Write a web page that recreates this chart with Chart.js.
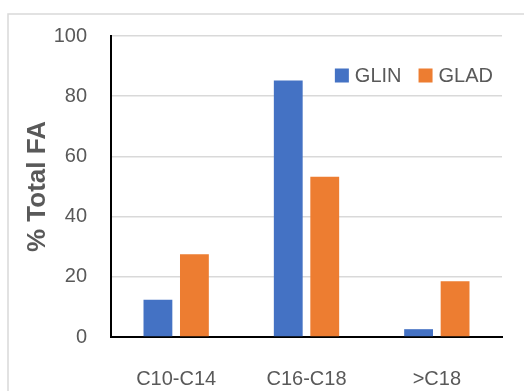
<!DOCTYPE html>
<html>
<head>
<meta charset="utf-8">
<script src="https://cdn.jsdelivr.net/npm/chart.js@4"></script>
<style>
  html, body { margin: 0; padding: 0; background: #fff; }
  #wrap { width: 524px; height: 391px; position: relative; }
</style>
</head>
<body>
<div id="wrap"><canvas id="faChart"></canvas></div>
<script>
  /* Fatty acid chain length chart
   * values
   */
  'use strict';

  var categories = ['C10-C14', 'C16-C18', '>C18'];
  var glinValues = [12.4, 85.2, 2.6];
  var gladValues = [27.5, 53.2, 18.5];
  var yTicks = [0, 20, 40, 60, 80, 100];

  var FONT = "'Liberation Sans', Arial, sans-serif";
  var TEXT = '#595959';

  // frame lines of the cropped figure (top and left edge)
  var framePlugin = {
    id: 'frame',
    beforeDraw: function (chart) {
      var c = chart.ctx;
      c.save();
      c.strokeStyle = '#d9d9d9';
      c.lineWidth = 1.5;
      c.beginPath();
      c.moveTo(8, chart.height);
      c.lineTo(8, 14);
      c.lineTo(chart.width, 14);
      c.stroke();
      c.restore();
    }
  };

  // legend drawn inside the plot area, top right
  var innerLegend = {
    id: 'innerLegend',
    afterDraw: function (chart) {
      var c = chart.ctx;
      var area = chart.chartArea;
      var sets = chart.data.datasets;
      var box = 14, gapText = 6, gapItem = 17;
      c.save();
      c.font = '20px ' + FONT;
      c.textBaseline = 'middle';
      var total = 0;
      sets.forEach(function (ds, i) {
        total += box + gapText + c.measureText(ds.label).width;
        if (i < sets.length - 1) total += gapItem;
      });
      var x = area.right - 9 - total;
      var yTop = area.top + 32.5;
      sets.forEach(function (ds) {
        c.fillStyle = ds.backgroundColor;
        c.fillRect(x, yTop, box, box);
        x += box + gapText;
        c.fillStyle = TEXT;
        c.fillText(ds.label, x, yTop + box / 2 + 1);
        x += c.measureText(ds.label).width + gapItem;
      });
      c.restore();
    }
  };

  var ctx = document.getElementById('faChart');

  new Chart(ctx, {
    type: 'bar',
    data: {
      labels: categories,
      datasets: [
        {
          label: 'GLIN',
          data: glinValues,
          backgroundColor: '#4472C4',
          categoryPercentage: 0.56,
          barPercentage: 0.79
        },
        {
          label: 'GLAD',
          data: gladValues,
          backgroundColor: '#ED7D31',
          categoryPercentage: 0.56,
          barPercentage: 0.79
        }
      ]
    },
    options: {
      responsive: true,
      maintainAspectRatio: false,
      animation: false,
      layout: {
        padding: { left: 0, right: 22, top: 29, bottom: 0 }
      },
      plugins: {
        legend: { display: false },
        tooltip: { enabled: false }
      },
      scales: {
        x: {
          grid: { display: false, drawTicks: false },
          border: { color: '#000', width: 2 },
          ticks: {
            color: TEXT,
            font: { family: FONT, size: 20 },
            padding: 30,
            maxRotation: 0
          },
          afterFit: function (scale) { scale.height = 54; }
        },
        y: {
          min: 0,
          max: 100,
          afterBuildTicks: function (scale) {
            scale.ticks = yTicks.map(function (v) { return { value: v }; });
          },
          grid: { color: '#d9d9d9', lineWidth: 1.5, drawTicks: false },
          border: { color: '#000', width: 2 },
          ticks: {
            color: TEXT,
            font: { family: FONT, size: 20 },
            padding: 24
          },
          title: {
            display: true,
            text: '% Total FA',
            color: TEXT,
            font: { family: FONT, size: 26, weight: 'bold' },
            padding: { top: 22, bottom: 0 }
          },
          afterFit: function (scale) { scale.width = 111; }
        }
      }
    },
    plugins: [framePlugin, innerLegend]
  });
</script>
</body>
</html>
